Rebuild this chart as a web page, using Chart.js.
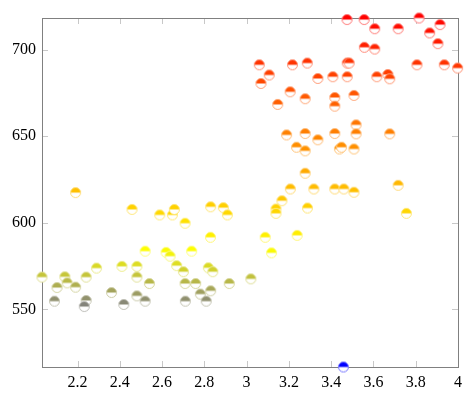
<!DOCTYPE html>
<html>
<head>
<meta charset="utf-8">
<script src="https://cdn.jsdelivr.net/npm/chart.js@4/dist/chart.umd.min.js"></script>
<style>
  html, body { margin: 0; padding: 0; background: #fff; }
  #wrap { width: 475px; height: 399px; }
</style>
</head>
<body>
<div id="wrap"><canvas id="scatter"></canvas></div>
<script>
// values
const xValues = [
    3.475, 3.556, 3.606, 3.717, 3.816, 3.915, 3.866, 3.905, 3.557, 3.606,
    3.060, 3.107, 3.068, 3.217, 3.287, 3.476, 3.485, 3.806, 3.935, 3.998,
    3.206, 3.147, 3.277, 3.337, 3.408, 3.476, 3.417, 3.417, 3.508, 3.616,
    3.668, 3.677, 3.518, 3.518, 3.677, 3.189, 3.277, 3.337, 3.417, 3.236,
    3.277, 3.439, 3.449, 3.508, 3.277, 3.207, 3.318, 3.417, 3.460, 3.508,
    3.717, 3.167, 3.139, 3.139, 3.288, 3.756,
    2.191, 2.458, 2.589, 2.649, 2.658, 2.709, 2.830, 2.890, 2.909, 2.520,
    2.619, 2.638, 2.740, 2.829, 3.088, 3.239, 3.118, 2.032, 2.140, 2.103,
    2.151, 2.191, 2.241, 2.290, 2.410, 2.481, 2.481, 2.540, 2.361, 2.091,
    2.241, 2.232, 2.419, 2.481, 2.520, 2.669, 2.701, 2.819, 2.840, 2.709,
    2.759, 2.918, 3.020, 2.781, 2.830, 2.710, 2.809,
    3.458
];
const yValues = [
    717.4, 717.4, 712.1, 712.1, 718.3, 714.5, 709.7, 703.5, 701.4, 700.4,
    691.3, 685.4, 680.5, 691.3, 692.3, 692.3, 692.3, 691.3, 691.3, 689.4,
    675.7, 668.4, 671.7, 683.4, 684.4, 684.4, 672.4, 667.4, 673.6, 684.4,
    685.7, 683.2, 656.6, 651.4, 651.4, 650.8, 651.6, 648.0, 651.6, 643.7,
    641.6, 642.7, 643.7, 642.7, 628.7, 619.6, 619.6, 619.6, 619.6, 617.7,
    621.7, 612.8, 608.0, 605.5, 608.6, 605.5,
    617.5, 607.8, 604.6, 604.6, 607.8, 599.8, 609.3, 608.8, 604.6, 583.7,
    583.0, 580.8, 583.7, 591.7, 591.7, 592.8, 582.7, 568.7, 568.9, 562.7,
    565.4, 562.9, 568.7, 573.9, 574.9, 574.9, 568.7, 565.0, 559.8, 554.8,
    555.2, 551.7, 552.9, 557.9, 554.8, 575.3, 571.8, 574.1, 571.8, 565.0,
    565.0, 565.0, 567.7, 558.9, 560.8, 554.8, 554.8,
    516.8
];
const xTickValues = [2.2, 2.4, 2.6, 2.8, 3, 3.2, 3.4, 3.6, 3.8, 4];
const yTickValues = [550, 600, 650, 700];

const points = xValues.map((x, i) => ({ x, y: yValues[i] }));
const metaMin = Math.min(...yValues);
const metaMax = Math.max(...yValues);

// pgfplots "hot": blue -> yellow -> orange -> red
function hot(t) {
    const stops = [[0, 0, 255], [255, 255, 0], [255, 128, 0], [255, 0, 0]];
    t = Math.max(0, Math.min(1, t)) * 3;
    const i = Math.min(2, Math.floor(t));
    const f = t - i;
    return stops[i].map((c, k) => Math.round(c + (stops[i + 1][k] - c) * f));
}

const markCache = {};
function halfCircle(rgb) {
    const key = rgb.join(',');
    if (markCache[key]) return markCache[key];
    const c = document.createElement('canvas');
    c.width = 13; c.height = 13;
    const g = c.getContext('2d');
    const r = 5, cx = 6.5, cy = 6.5;
    g.fillStyle = '#fff';
    g.beginPath(); g.arc(cx, cy, r, 0, Math.PI * 2); g.fill();
    g.fillStyle = 'rgb(' + key + ')';
    g.beginPath(); g.arc(cx, cy, r, Math.PI, Math.PI * 2); g.closePath(); g.fill();
    const light = rgb.map(v => Math.round(v + (255 - v) * 0.45));
    g.strokeStyle = 'rgb(' + light.join(',') + ')';
    g.lineWidth = 1;
    g.beginPath(); g.arc(cx, cy, r, 0, Math.PI * 2); g.stroke();
    markCache[key] = c;
    return c;
}

// axis box with inward ticks on all four sides
const boxAxes = {
    id: 'boxAxes',
    beforeDatasetsDraw(chart) {
        const { ctx, chartArea: a, scales } = chart;
        ctx.save();
        ctx.strokeStyle = '#c8c8c8';
        ctx.lineWidth = 1;
        ctx.beginPath();
        xTickValues.forEach(v => {
            const px = Math.round(scales.x.getPixelForValue(v)) + 0.5;
            ctx.moveTo(px, a.bottom); ctx.lineTo(px, a.bottom - 6);
            ctx.moveTo(px, a.top); ctx.lineTo(px, a.top + 6);
        });
        yTickValues.forEach(v => {
            const py = Math.round(scales.y.getPixelForValue(v)) + 0.5;
            ctx.moveTo(a.left, py); ctx.lineTo(a.left + 6, py);
            ctx.moveTo(a.right, py); ctx.lineTo(a.right - 6, py);
        });
        ctx.stroke();
        ctx.strokeStyle = '#808080';
        ctx.strokeRect(Math.round(a.left) + 0.5, Math.round(a.top) + 0.5,
            Math.round(a.right - a.left), Math.round(a.bottom - a.top));
        ctx.restore();
    }
};

const font = { family: '"Liberation Serif", "DejaVu Serif", serif', size: 16 };

new Chart(document.getElementById('scatter'), {
    type: 'scatter',
    data: {
        datasets: [{
            data: points,
            clip: false,
            pointRadius: 6,
            pointHoverRadius: 6,
            pointStyle: ctx => halfCircle(hot((ctx.raw.y - metaMin) / (metaMax - metaMin)))
        }]
    },
    options: {
        responsive: true,
        maintainAspectRatio: false,
        animation: false,
        layout: { padding: { top: 18, right: 17, left: 0, bottom: 0 } },
        plugins: {
            legend: { display: false },
            tooltip: { enabled: false }
        },
        scales: {
            x: {
                type: 'linear',
                min: 2.032,
                max: 4,
                grid: { display: false, drawTicks: false },
                border: { display: false },
                afterBuildTicks: s => { s.ticks = xTickValues.map(v => ({ value: v })); },
                afterFit: s => { s.height = 32; },
                ticks: { color: '#000', font, padding: 6, maxRotation: 0, autoSkip: false,
                    callback: v => String(v) }
            },
            y: {
                min: 516.8,
                max: 718.3,
                grid: { display: false, drawTicks: false },
                border: { display: false },
                afterBuildTicks: s => { s.ticks = yTickValues.map(v => ({ value: v })); },
                afterFit: s => { s.width = 42; },
                ticks: { color: '#000', font, padding: 6, callback: v => String(v) }
            }
        }
    },
    plugins: [boxAxes]
});
</script>
</body>
</html>
